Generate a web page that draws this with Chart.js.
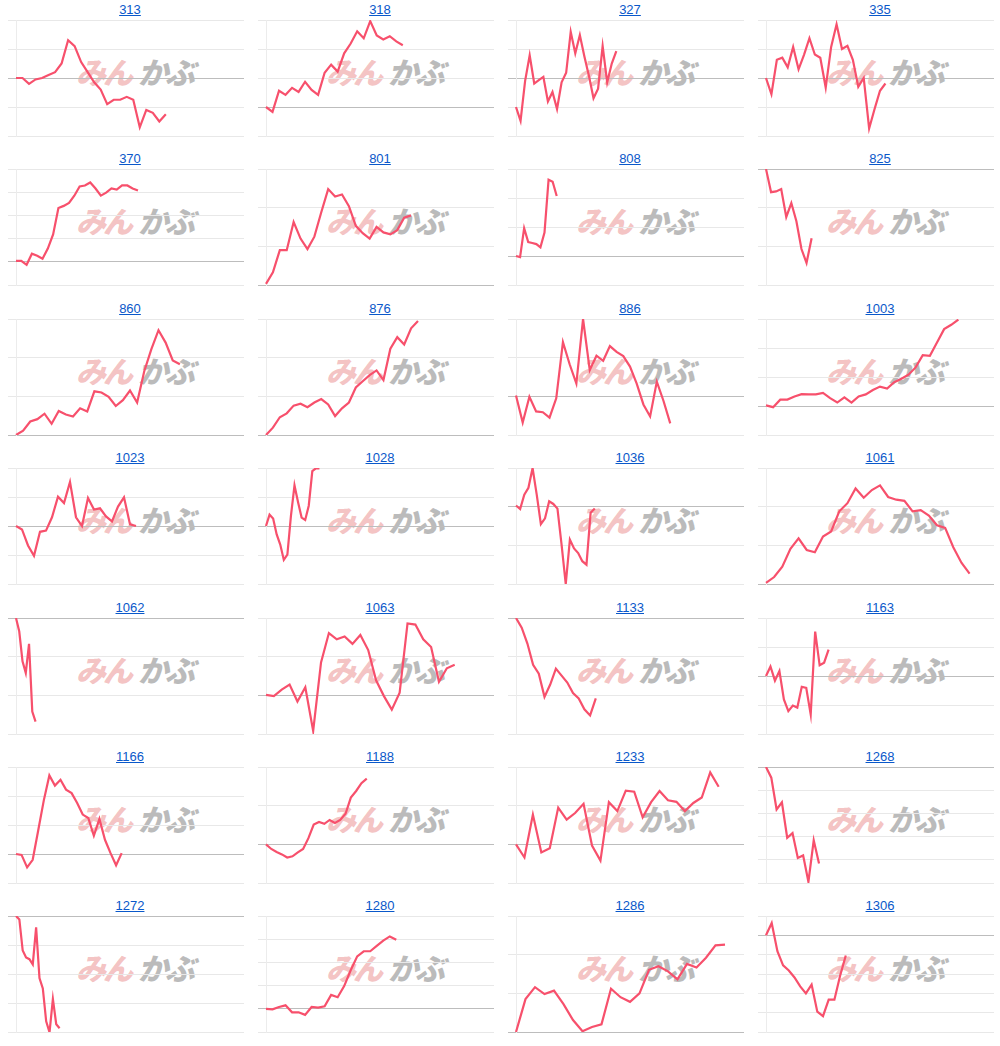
<!DOCTYPE html>
<html>
<head>
<meta charset="utf-8">
<script src="https://cdn.jsdelivr.net/npm/chart.js@4.4.1/dist/chart.umd.min.js"></script>
<style>
  body { margin: 0; background: #fff; font-family: "Liberation Sans", Arial, sans-serif; }
  #grid { display: grid; grid-template-columns: repeat(4, 250px); grid-auto-rows: 149.4px; width: 1000px; }
  .cell { position: relative; }
  .cell a { position: absolute; top: 2px; left: 0; width: 260px; text-align: center; font-size: 13px; color: #0a58ca; text-decoration: underline; }
  .cell canvas { position: absolute; left: 0; top: 18px; z-index: 2; }
  .wm { position: absolute; left: 76px; top: 49px; z-index: 1; font: italic 900 30px "Noto Sans CJK JP", sans-serif; letter-spacing: -3px; white-space: nowrap; }
  .wm .a { color: rgba(228, 110, 110, 0.42); }
  .wm .b { color: rgba(120, 120, 120, 0.5); margin-left: 8px; }
</style>
</head>
<body>
<div id="grid"></div>
<script>
const codes = ['313','318','327','335','370','801','808','825','860','876','886','1003','1023','1028','1036','1061',
               '1062','1063','1133','1163','1166','1188','1233','1268','1272','1280','1286','1306'];

// number of x slots per chart
const slots = [35, 35, 50, 42, 43, 33, 56, 45, 32, 33, 34, 32, 38, 64, 55, 28,
               70, 29, 40, 51, 41, 43, 27, 43, 68, 35, 24, 40];

// y range per chart (zero line drawn darker)
const yMins = [-20, -10, -20, -20, -10, 0, -10, -30, 0, 0, -10, -10, -20, -20, -20, 0,
               -30, -10, -30, -20, -10, -10, -10, -50, -40, -10, 0, -50];
const yMaxs = [20, 30, 20, 20, 40, 30, 30, 0, 30, 30, 20, 30, 20, 20, 10, 30,
               0, 20, 0, 20, 30, 20, 20, 0, 0, 40, 30, 10];

const s313 = [0, 0, -2, -0.5, 0, 1, 2, 5, 13, 11, 5.5, 2, -1.5, -4, -9, -7.5, -7.5, -6.5, -7.5, -17, -11, -12, -15, -12.5];
const s318 = [0, -1.7, 5.6, 4.2, 6.6, 5.2, 8.7, 5.9, 4.2, 11.8, 14.6, 12.2, 18.5, 21.9, 26.1, 23.7, 29.6, 24.7, 23.3, 24.4, 22.6, 21.3];
const s327 = [-10, -14.8, -1, 7.8, -1.9, -0.7, 0.4, -8.1, -4.8, -10.7, -1.5, 1.8, 15.9, 8.5, 14.8, 7.4, 0.7, -7, -3.7, 11, -1.5, 5, 9.3];
const s335 = [0, -5.6, 6.3, 7, 3.7, 10.7, 3, 8, 13.7, 8.1, 7, -3.3, 10.7, 18.5, 10, 11.1, 6.3, -3, 0, -17.4, -10.7, -4.4, -1.9];
const s370 = [0.4, 0.4, -1.3, 3.5, 2.6, 1.3, 5.7, 11.8, 23.2, 24.1, 25.4, 28.5, 32.5, 32.9, 34.2, 31.6, 28.5, 29.8, 31.6, 31.1, 32.9, 32.9, 31.6, 30.7];
const s801 = [0.3, 3.3, 9, 9, 16.3, 12, 9.3, 12.5, 18.8, 24.8, 22.9, 23.4, 20.4, 15.3, 13.4, 12, 15, 13.6, 13.1, 14.2, 17.4, 18];
const s808 = [0, -0.4, 9.6, 4.8, 4.5, 4.1, 3, 8.1, 26.3, 25.6, 20.7];
const s825 = [0, -6, -5.8, -5.2, -12.4, -8.8, -13.5, -20.7, -24.3, -17.9];
const s860 = [0, 1.1, 3.5, 4.1, 5.5, 2.9, 6.2, 5.3, 4.8, 6.9, 6.1, 11.3, 11, 9.9, 7.5, 9, 11.5, 8.4, 16.5, 22.2, 27.1, 23.9, 19.3, 18.3];
const s876 = [0, 1.9, 4.6, 5.6, 7.6, 8.1, 7.2, 8.4, 9.3, 7.9, 4.9, 6.9, 8.4, 12.3, 13.9, 15.5, 16.7, 14.2, 22.3, 25.3, 23.4, 27.6, 29.5];
const s886 = [0.2, -6.8, -0.1, -3.9, -4.1, -5.5, -0.5, 14, 8.3, 3.3, 20, 6.8, 10.5, 9.2, 13, 11.5, 10.4, 7.7, 3.3, -2.1, -5.2, 3.8, -1.2, -7];
const s1003 = [0.2, -0.4, 2.2, 2.2, 3.3, 4.1, 4, 4, 4.5, 2.7, 1.2, 3, 1.2, 3.3, 4, 5.5, 6.7, 6, 8.2, 9.4, 10.8, 13.3, 17.5, 17.3, 21.9, 26.5, 28, 29.8];
const s1023 = [0, -1.2, -6.7, -10.3, -2, -1.6, 3, 10.1, 7.9, 15.2, 3, 0, 9.7, 5.7, 6.1, 3.3, 1.6, 6.7, 9.9, 0.6, 0];
const s1028 = [0, 3.9, 2.6, -2.9, -6.4, -11.7, -9.9, 3.5, 14, 8.2, 2.9, 2.1, 7, 18.9, 19.9, 19.9];
const s1036 = [0.3, -0.6, 3.1, 4.9, 10, 3.1, -4.5, -3, 1.4, 0.7, -0.5, -9.9, -20, -8.5, -10.8, -12, -14.1, -15, -1.6, -0.5];
const s1061 = [0.3, 1.8, 4.5, 9.1, 11.8, 8.8, 8.2, 12.3, 13.6, 18.8, 20.9, 24.7, 22.3, 24.3, 25.5, 22.5, 21.8, 21.5, 18.8, 19.1, 17.7, 15.2, 14.5, 9.5, 5.5, 2.7];
const s1062 = [0, -3.5, -11.2, -14.2, -6.7, -24.2, -26.8];
const s1063 = [0.1, -0.2, 1.5, 2.8, -1.6, 2.1, -9.2, 8.5, 16.1, 14.5, 15.2, 13.3, 15.6, 11.7, 3.9, -0.2, -3.7, 0.7, 18.6, 18.3, 14.5, 12.5, 3.5, 7, 7.9];
const s1133 = [0, -2.5, -6.6, -12.1, -14.4, -20.4, -17.2, -13.1, -14.9, -16.7, -19.4, -20.8, -23.6, -25.2, -20.8];
const s1163 = [0, 3.3, -1.6, 1.7, -8.1, -12.1, -10.2, -10.9, -3.7, -4.1, -13.3, 15.3, 3.7, 4.6, 9.1];
const s1166 = [0, -0.3, -4.6, -2, 8.2, 18.5, 27.1, 23.6, 25.6, 22.2, 21, 17.6, 13.6, 12.4, 6.3, 12.1, 4.9, 0.3, -3.9, 0.3];
const s1188 = [0, -1.2, -2, -2.6, -3.4, -3.1, -2.1, -1.2, 1.6, 5.1, 5.8, 5.3, 6.3, 5.5, 6.3, 7.9, 12.1, 13.8, 15.8, 17];
const s1233 = [0, -3.4, 7.7, -2.1, -1, 9.5, 6.4, 8.1, 10.5, -0.3, -4.2, 10.9, 8.6, 13.9, 13.6, 7, 10.9, 13.8, 11.4, 11, 8.6, 10.7, 12.1, 18.6, 14.9];
const s1268 = [0, -4.6, -18.3, -15.2, -30.5, -28.5, -39.2, -38.1, -49.5, -31.6, -41.6];
const s1272 = [0, -1.2, -11.9, -14.3, -14.9, -16.7, -3.9, -21.4, -25, -36.3, -40.1, -28.6, -37.3, -38.7];
const s1280 = [0, -0.2, 0.8, 1.5, -1.5, -1.5, -2.6, 0.8, 0.5, 1.1, 6, 5, 9.8, 16.6, 22.6, 24.8, 24.8, 27.1, 29.4, 31.2, 29.8];
const s1286 = [0, 8.5, 11.6, 9.8, 10.7, 7.2, 3.1, 0.2, 1.3, 2, 11.2, 9, 7.8, 10, 16.1, 17, 15.7, 13.6, 17.6, 16.7, 19.2, 22.4, 22.6];
const s1306 = [0, 6.4, -8.2, -15.5, -18.2, -21.8, -26.4, -30, -25.5, -39.5, -41.8, -33.3, -33.3, -20.9, -10.4];

const series = [s313, s318, s327, s335, s370, s801, s808, s825, s860, s876, s886, s1003, s1023, s1028, s1036, s1061,
                s1062, s1063, s1133, s1163, s1166, s1188, s1233, s1268, s1272, s1280, s1286, s1306];

const grid = document.getElementById('grid');

codes.forEach(function(code, i) {
    const cell = document.createElement('div');
    cell.className = 'cell';
    cell.innerHTML = '<a href="#">' + code + '</a>' +
        '<div class="wm"><span class="a">みん</span><span class="b">かぶ</span></div>' +
        '<canvas width="250" height="126"></canvas>';
    grid.appendChild(cell);

    const labels = [];
    for (let k = 0; k <= slots[i]; k++) labels.push(k);

    new Chart(cell.querySelector('canvas'), {
        type: 'line',
        data: {
            labels: labels,
            datasets: [{
                data: series[i],
                borderColor: '#f7506c',
                borderWidth: 2.2,
                pointRadius: 0,
                tension: 0,
                fill: false
            }]
        },
        options: {
            responsive: false,
            animation: false,
            layout: { padding: { left: 8, right: 6, top: 2, bottom: 8 } },
            plugins: { legend: { display: false }, tooltip: { enabled: false } },
            scales: {
                x: { display: false },
                y: {
                    min: yMins[i],
                    max: yMaxs[i],
                    ticks: { display: false, stepSize: 10 },
                    border: { color: '#ececec' },
                    grid: {
                        tickLength: 8,
                        color: function(c) { return c.tick && c.tick.value === 0 ? '#bdbdbd' : '#e8e8e8'; }
                    }
                }
            }
        }
    });
});
</script>
</body>
</html>
